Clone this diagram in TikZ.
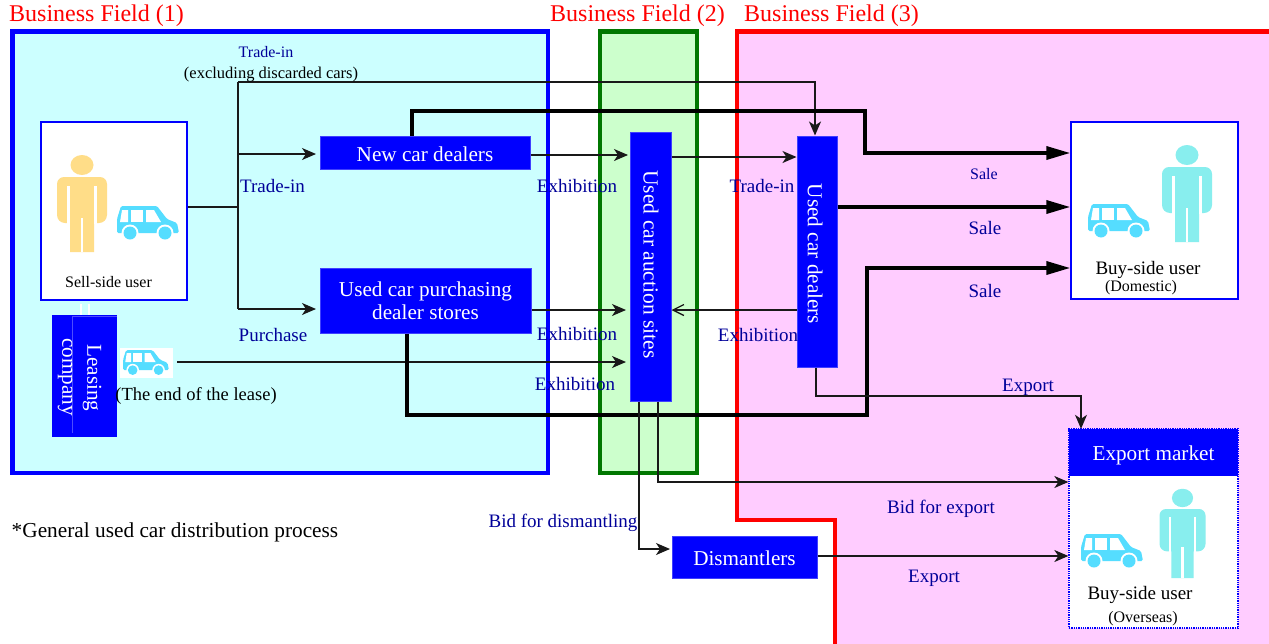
\documentclass[tikz,border=0pt]{standalone}
\usepackage{fontspec}
\setmainfont{Liberation Serif}
\usetikzlibrary{arrows.meta}
\definecolor{lblue}{HTML}{000099}
\definecolor{boxblue}{HTML}{0000FF}
\definecolor{carc}{HTML}{55DDFF}
\definecolor{persona}{HTML}{FFDD88}
\definecolor{personb}{HTML}{88EEEE}
\definecolor{greenf}{HTML}{007700}
\definecolor{fieldone}{HTML}{CCFFFF}
\definecolor{fieldtwo}{HTML}{CCFFCC}
\definecolor{fieldthree}{HTML}{FFCCFF}
\newcommand{\fs}[1]{\fontsize{#1}{#1}\selectfont}
\tikzset{
 x=1pt,y=-1pt,
 field/.style={line width=4.5pt,line join=miter},
 fieldlabel/.style={text=red,font=\fs{24},anchor=west,inner sep=0pt},
 solidbox/.style={fill=boxblue,draw=boxblue!75!white,line width=1pt,text=white,align=center,inner sep=0pt},
 userbox/.style={fill=white,draw=boxblue,line width=1.4pt,inner sep=0pt},
 bl/.style={text=lblue,font=\fs{19},inner sep=0pt},
 blk/.style={text=black,inner sep=0pt},
 conn/.style={line width=1.3pt,draw=black!90,-{Stealth[length=14pt,width=12pt,inset=4pt]}},
 plainconn/.style={line width=1.6pt,draw=black!90},
 thick conn/.style={line width=3.5pt,black,-{Triangle[length=24pt,width=13pt]}},
 open conn/.style={line width=1.3pt,draw=black!90,-{Straight Barb[length=11pt,width=11pt]}},
 pics/car/.style={code={
   \fill[carc,rounded corners=1.5pt] (-31,11) -- (-31,-3) -- (-27,-16) -- (9,-16) -- (19,-3) -- (29,1) -- (31,11) -- cycle;
   \fill[white] (-26,-12) -- (-20,-12) -- (-20,0) -- (-28,0) -- cycle;
   \fill[white] (-17,-12) -- (-5,-12) -- (-5,0) -- (-17,0) -- cycle;
   \fill[white] (-2,-12) -- (6,-12) -- (13,0) -- (-2,0) -- cycle;
   \fill[white] (-18,11) circle (8.5); \fill[white] (17,11) circle (8.5);
   \fill[carc] (-18,11) circle (6.5); \fill[carc] (17,11) circle (6.5);
 }},
 pics/person/.style={code={
   \fill[#1] (0,-87) ellipse (11.5 and 10);
   \fill[#1] (-25,-68) arc[start angle=180,end angle=270,radius=7] -- (18,-75) arc[start angle=270,end angle=360,radius=7] -- (25,-37) arc[start angle=0,end angle=90,radius=8] -- (12,-29) -- (12,0) -- (-12,0) -- (-12,-29) -- (-17,-29) arc[start angle=90,end angle=180,radius=8] -- cycle;
   \fill[white] (-15,-66) rectangle (-12,-28);
   \fill[white] (12,-66) rectangle (15,-28);
   \fill[white] (-1.3,-34) rectangle (1.3,0);
 }},
}
\begin{document}
\begin{tikzpicture}
\useasboundingbox (0,0) rectangle (1269,643);
\fill[white] (0,0) rectangle (1269,643);
% fields
\node[fieldlabel] (f1l) at (9,16) {Business Field (1)};
\node[fieldlabel] (f2l) at (550,16) {Business Field (2)};
\node[fieldlabel] (f3l) at (744,16) {Business Field (3)};
\draw[field,draw=boxblue,fill=fieldone] (12.5,31.5) rectangle (548,473);
\draw[field,draw=greenf,fill=fieldtwo] (600,31.5) rectangle (697,473);
\draw[field,draw=red,fill=fieldthree] (1275,31.5) -- (737,31.5) -- (737,520) -- (835,520) -- (835,650) -- (1275,650);
% boxes
\node[userbox,minimum width=146pt,minimum height=178pt] (sell) at (114,211) {};
\node[solidbox,minimum width=210pt,minimum height=33pt,font=\fs{21.2},text height=17pt,text depth=0pt] (newcar) at (425,152.5) {New car dealers};
\node[solidbox,minimum width=211pt,minimum height=65pt,font=\fs{21.2}] (purch) at (425.5,300.5) {Used car purchasing\\[2pt]dealer stores};
\draw[white,line width=1.6pt] (81,304) -- (81,315) (89,304) -- (89,315);
\node[fill=boxblue,minimum width=65pt,minimum height=122pt,inner sep=0pt] (lease) at (84.5,376) {};
\draw[boxblue!70!white,line width=1pt] (117,316) -- (72,316) -- (72,433);
\node[blk,text=white,font=\fs{21.2},rotate=-90] (leasel1) at (92,378) {Leasing};
\node[blk,text=white,font=\fs{21.2},rotate=-90] (leasel2) at (65,377) {company};
\node[fill=white,minimum width=53pt,minimum height=30pt,inner sep=0pt] (leasecar) at (146.5,363) {};
\node[solidbox,minimum width=41pt,minimum height=269pt] (auction) at (650.5,266.5) {};
\node[blk,text=white,font=\fs{21.5},rotate=-90] (auctionl) at (651,264.5) {Used car auction sites};
\node[solidbox,minimum width=40pt,minimum height=231pt] (dealers) at (817,251.5) {};
\node[blk,text=white,font=\fs{21.2},rotate=-90] (dealersl) at (815,254) {Used car dealers};
\node[userbox,minimum width=167pt,minimum height=177pt] (buy) at (1154.5,210.5) {};
\node[fill=white,draw=boxblue,densely dotted,line width=1.3pt,minimum width=169pt,minimum height=199pt,inner sep=0pt] (overseas) at (1153.5,528.5) {};
\node[fill=boxblue,text=white,font=\fs{21.2},minimum width=169pt,minimum height=47pt,inner sep=0pt,text height=19pt,text depth=4pt] (export) at (1153.5,452.5) {Export market};
\node[solidbox,minimum width=145pt,minimum height=42pt,font=\fs{21.2},text height=16.5pt,text depth=0pt] (dism) at (744.5,557.5) {Dismantlers};
% icons
\pic at (82,252) {person=persona};
\pic at (148,222) {car};
\pic at (146,362) [scale=0.74] {car};
\pic at (1187,242) {person=personb};
\pic at (1119,220) {car};
\pic at (1182.5,578) [scale=0.92] {person=personb};
\pic at (1112,550) {car};
% text in boxes
\node[blk,font=\fs{16}] (selll) at (108.5,282.5) {Sell-side user};
\node[blk,font=\fs{19}] (buyl) at (1148,270) {Buy-side user};
\node[blk,font=\fs{16}] (buyl2) at (1141,287.5) {(Domestic)};
\node[blk,font=\fs{19}] (ovl) at (1140,595) {Buy-side user};
\node[blk,font=\fs{16}] (ovl2) at (1143,618.5) {(Overseas)};
\node[blk,font=\fs{18.5}] (endl) at (196,396) {(The end of the lease)};
\node[blk,font=\fs{21.3}] (note) at (175,532) {*General used car distribution process};
% connectors
\coordinate (jn) at (238,207);
\coordinate (jt) at (238,82);
\coordinate (jm) at (238,154);
\coordinate (jb) at (238,309);
\draw[plainconn] (sell.east |- jn) -- (jn);
\draw[plainconn] (jt) -- (jb);
\draw[conn] (jt) -- (815,82) -- (dealers.north -| 815,0);
\draw[conn] (jm) -- (316,154);
\draw[conn] (jb) -- (316,309);
\draw[conn] (newcar.east |- 0,155) -- (628,155);
\draw[conn] (purch.east |- 0,310) -- (626,310);
\draw[conn] (leasecar.east |- 0,362) ++(4,0) -- (626,362);
\draw[conn] (auction.east |- 0,157) -- (dealers.west |- 0,157);
\draw[open conn] (dealers.west |- 0,310) -- (auction.east |- 0,310);
\draw[thick conn] (newcar.north -| 412,0) -- (412,111) -- (865,111) -- (865,153) -- (buy.west |- 0,153);
\draw[thick conn] (dealers.east |- 0,207) -- (buy.west |- 0,207);
\draw[thick conn] (purch.south -| 407,0) -- (407,415) -- (867,415) -- (867,268) -- (buy.west |- 0,268);
\draw[conn] (dealers.south -| 816,0) -- (816,396) -- (1081,396) -- (export.north -| 1081,0);
\draw[conn] (auction.south -| 639,0) -- (639,549) -- (670,549);
\draw[conn] (auction.south -| 658,0) -- (658,482) -- (overseas.west |- 0,482);
\draw[conn] (dism.east |- 0,556) -- (overseas.west |- 0,556);
% labels
\node[bl,font=\fs{16}] (t1) at (266,52) {Trade-in};
\node[blk,font=\fs{16.5}] (t2) at (271,74.5) {(excluding discarded cars)};
\node[bl] (t3) at (272.5,186) {Trade-in};
\node[bl] (t4) at (273,335) {Purchase};
\node[bl] (e1) at (577,186) {Exhibition};
\node[bl] (e2) at (577,334) {Exhibition};
\node[bl] (e3) at (575,384) {Exhibition};
\node[bl] (t5) at (762,186) {Trade-in};
\node[bl] (e4) at (758,335) {Exhibition};
\node[bl,font=\fs{16}] (s1) at (984,174) {Sale};
\node[bl] (s2) at (985,228) {Sale};
\node[bl] (s3) at (985,291) {Sale};
\node[bl] (x1) at (1028,387) {Export};
\node[bl] (b1) at (941,509) {Bid for export};
\node[bl] (b2) at (563,523) {Bid for dismantling};
\node[bl] (x2) at (934,578) {Export};
\end{tikzpicture}
\end{document}
